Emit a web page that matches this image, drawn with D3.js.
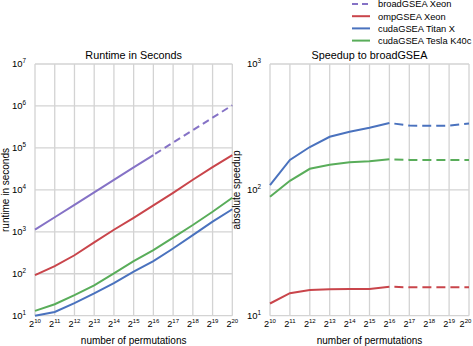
<!DOCTYPE html>
<html><head><meta charset="utf-8">
<script src="https://cdn.jsdelivr.net/npm/d3@7"></script>
<style>
body{margin:0;background:#fff;}
text{font-family:"Liberation Sans",Arial,Helvetica,sans-serif;fill:#000;}
</style></head>
<body><svg id="c" width="473" height="346"></svg>
<script>
const exponents = [10,11,12,13,14,15,16,17,18,19,20];
const measuredUpTo = 16;
const runtimeBroad = [1122, 2220, 4400, 8710, 17200, 34200, 67600, 134000, 265000, 525000, 1040000];
const runtimeOmp = [93, 152, 276, 560, 1120, 2150, 4250, 8500, 17400, 34700, 67600];
const runtimeTitanX = [10, 12.3, 20, 34, 60, 112, 200, 400, 830, 1740, 3450];
const runtimeK40c = [13, 18.8, 31, 53, 102, 200, 365, 730, 1450, 3000, 6500];
const speedupTitanX = [109, 173, 219, 264, 289, 311, 340, 324, 323, 324, 336];
const speedupK40c = [88, 118, 147, 158, 166, 169, 175, 173, 173, 173, 173];
const speedupOmp = [12.5, 15.1, 16.0, 16.2, 16.3, 16.3, 17.0, 16.8, 16.8, 16.8, 16.8];
const runtimeTicks = [1,2,3,4,5,6,7];
const speedupTicks = [1,2,3];
const seriesNames = ["broadGSEA Xeon","ompGSEA Xeon","cudaGSEA Titan X","cudaGSEA Tesla K40c"];
const colors = {broad:"#8572c6", omp:"#c9454b", titan:"#4a72be", k40:"#59ad5a"};

const svg = d3.select("#c");
const grid = "#d3d3d3";
const W = 473;

function panel(opts){
  const x = d3.scaleLog().base(2).domain([2**10, 2**20]).range([opts.x0, opts.x1]);
  const y = d3.scaleLog().domain([10**opts.yTicks[0], 10**opts.yTicks[opts.yTicks.length-1]]).range([315.7, 64]);
  const g = svg.append("g");
  g.selectAll(".vg").data(exponents).enter().append("line")
    .attr("x1", e=>x(2**e)).attr("x2", e=>x(2**e)).attr("y1", y.range()[1]).attr("y2", y.range()[0])
    .attr("stroke", grid).attr("stroke-width", 1.3);
  g.selectAll(".hg").data(opts.yTicks).enter().append("line")
    .attr("x1", opts.x0).attr("x2", opts.x1).attr("y1", t=>y(10**t)).attr("y2", t=>y(10**t))
    .attr("stroke", grid).attr("stroke-width", 1.3);
  g.selectAll(".yl").data(opts.yTicks).enter().append("text")
    .attr("x", opts.x0-9).attr("y", t=>y(10**t)+3.4).attr("text-anchor","end")
    .style("font-size","9.5px")
    .each(function(t){
      const s=d3.select(this);
      s.append("tspan").text("10");
      s.append("tspan").attr("dy",-4).style("font-size","6.3px").text(t);
    });
  g.selectAll(".xl").data(exponents).enter().append("text")
    .attr("x", e=>x(2**e)).attr("y", 326.7).attr("text-anchor","middle")
    .style("font-size","9.2px")
    .each(function(e){
      const s=d3.select(this);
      s.append("tspan").text("2");
      s.append("tspan").attr("dy",-3.8).style("font-size","6px").text(e);
      const bb = this.getBBox();
      if (bb.x + bb.width > W - 1) {
        s.attr("x", +s.attr("x") - (bb.x + bb.width - (W - 1)));
      }
    });
  g.append("text").attr("x",(opts.x0+opts.x1)/2).attr("y",59).attr("text-anchor","middle")
    .style("font-size","10.8px").text(opts.title);
  g.append("text").attr("x",(opts.x0+opts.x1)/2).attr("y",343.5).attr("text-anchor","middle")
    .style("font-size","10px").text("number of permutations");
  g.append("text").attr("transform",`translate(${opts.ylx},190) rotate(-90)`).attr("text-anchor","middle")
    .style("font-size","10px").text(opts.ylabel);
  const line = d3.line().x(d=>x(2**d.e)).y(d=>y(d.v));
  opts.series.forEach(s=>{
    const pts = exponents.map((e,i)=>({e, v:s.values[i]}));
    const solid = s.allSolid ? pts : pts.filter(p=>p.e<=measuredUpTo);
    g.append("path").attr("d", line(solid)).attr("fill","none").attr("stroke",s.color).attr("stroke-width",2);
    if(!s.allSolid){
      g.append("path").attr("d", line(pts.filter(p=>p.e>=measuredUpTo))).attr("fill","none")
        .attr("stroke",s.color).attr("stroke-width",2)
        .attr("stroke-dasharray", opts.dash).attr("stroke-dashoffset", opts.dashOffset);
    }
  });
}

panel({x0:35, x1:232.3, yTicks:runtimeTicks, title:"Runtime in Seconds", ylabel:"runtime in seconds", ylx:8.5,
  dash:"7,4.3", dashOffset:-2,
  series:[
    {values:runtimeBroad, color:colors.broad, allSolid:false},
    {values:runtimeOmp, color:colors.omp, allSolid:true},
    {values:runtimeK40c, color:colors.k40, allSolid:true},
    {values:runtimeTitanX, color:colors.titan, allSolid:true}
  ]});
panel({x0:270, x1:469, yTicks:speedupTicks, title:"Speedup to broadGSEA", ylabel:"absolute speedup", ylx:240,
  dash:"9,5", dashOffset:9,
  series:[
    {values:speedupTitanX, color:colors.titan, allSolid:false},
    {values:speedupK40c, color:colors.k40, allSolid:false},
    {values:speedupOmp, color:colors.omp, allSolid:false}
  ]});

const legColors = [colors.broad, colors.omp, colors.titan, colors.k40];
const lg = svg.append("g");
seriesNames.forEach((n,i)=>{
  const yy = 4 + i*12.2;
  lg.append("line").attr("x1",352).attr("x2",370).attr("y1",yy).attr("y2",yy)
    .attr("stroke",legColors[i]).attr("stroke-width",2)
    .attr("stroke-dasharray", i===0 ? "6,4" : null);
  lg.append("text").attr("x",378).attr("y",yy+3.4).style("font-size","9.3px").text(n);
});
</script></body></html>
